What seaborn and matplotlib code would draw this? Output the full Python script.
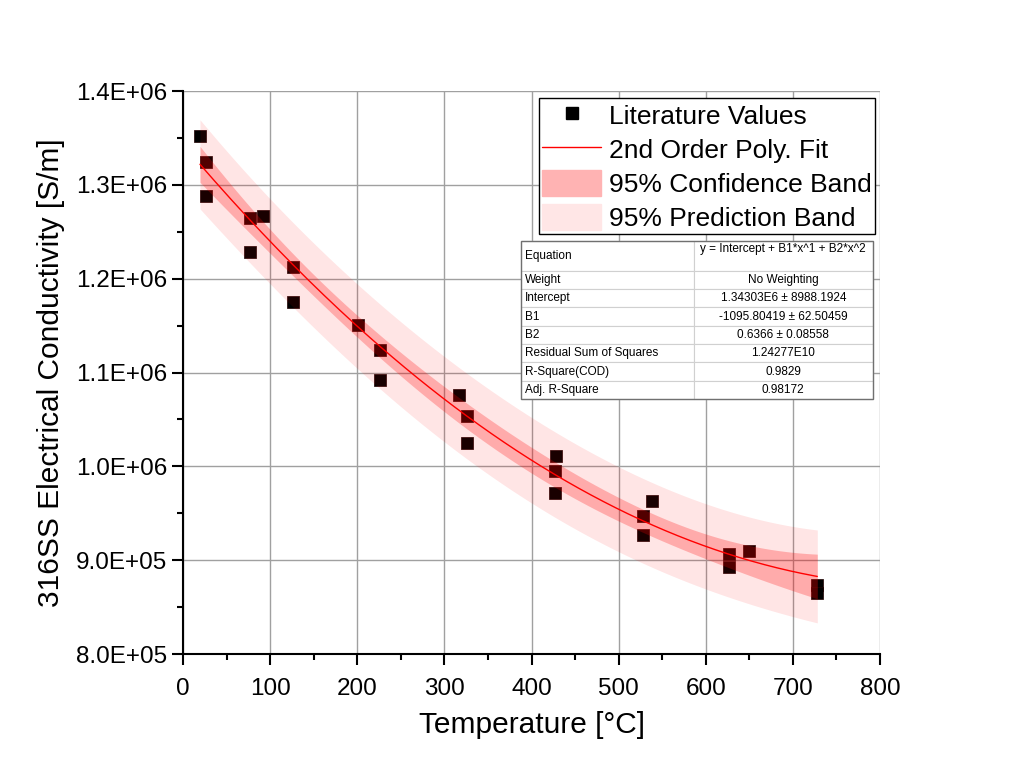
import numpy as np
import pandas as pd
import seaborn as sns
import matplotlib.pyplot as plt
from matplotlib.lines import Line2D
from matplotlib.patches import Patch
from matplotlib.ticker import MultipleLocator, FuncFormatter

# Literature values
temperature = [19.5, 26.4, 26.0, 77, 92, 77, 126, 126, 201, 226, 226, 317, 326, 326,
               428, 427, 427, 528, 528, 538, 627, 627, 650, 728, 728]
conductivity = [1.352e6, 1.3243e6, 1.288e6, 1.2646e6, 1.2667e6, 1.2284e6, 1.2124e6,
                1.175e6, 1.1506e6, 1.1239e6, 1.092e6, 1.076e6, 1.0536e6, 1.0248e6,
                1.0109e6, 0.995e6, 0.9715e6, 0.947e6, 0.9267e6, 0.963e6, 0.9064e6,
                0.8926e6, 0.910e6, 0.8734e6, 0.865e6]

# Fit parameters from the results table
intercept, b1, b2 = 1.34303e6, -1095.80419, 0.6366

table_labels = ["Equation", "Weight", "Intercept", "B1", "B2",
                "Residual Sum of Squares", "R-Square(COD)", "Adj. R-Square"]
table_values = ["y = Intercept + B1*x^1 + B2*x^2\n", "No Weighting",
                "1.34303E6 \u00b1 8988.1924", "-1095.80419 \u00b1 62.50459",
                "0.6366 \u00b1 0.08558", "1.24277E10", "0.9829", "0.98172"]

df = pd.DataFrame({"T": temperature, "sigma": conductivity})

# confidence / prediction bands for the quadratic fit
x = df["T"].to_numpy()
X = np.column_stack([np.ones_like(x), x, x ** 2])
n, p = X.shape
beta = np.array([intercept, b1, b2])
resid = df["sigma"].to_numpy() - X @ beta
s2 = np.sum(resid ** 2) / (n - p)
cov = s2 * np.linalg.inv(X.T @ X)
t_val = 2.074  # t(0.975, 22)

xf = np.linspace(x.min(), x.max(), 200)
Xf = np.column_stack([np.ones_like(xf), xf, xf ** 2])
yf = Xf @ beta
se_fit = np.sqrt(np.einsum("ij,jk,ik->i", Xf, cov, Xf))
ci = t_val * se_fit
pi = t_val * np.sqrt(se_fit ** 2 + s2)
fit = pd.DataFrame({"T": xf, "sigma": yf})

sns.set_style("white")
plt.rcParams["font.family"] = ["Liberation Sans", "DejaVu Sans"]
plt.rcParams["text.color"] = "black"
plt.rcParams["axes.labelcolor"] = "black"
plt.rcParams["xtick.color"] = "black"
plt.rcParams["ytick.color"] = "black"

fig = plt.figure(figsize=(10.24, 7.84), dpi=100)
ax = fig.add_axes([0.1787, 0.1658, 0.6807, 0.7181])

ax.grid(True, color="#a0a0a0", linewidth=1, zorder=0)
ax.set_axisbelow(True)

sns.scatterplot(data=df, x="T", y="sigma", marker="s", s=85, color="black",
                edgecolor="#200000", linewidth=0.5, ax=ax, zorder=3)
ax.fill_between(xf, yf - pi, yf + pi, color="red", alpha=0.1, linewidth=0, zorder=4)
ax.fill_between(xf, yf - ci, yf + ci, color="red", alpha=0.25, linewidth=0, zorder=4)
sns.lineplot(data=fit, x="T", y="sigma", color="red", linewidth=1, ax=ax, zorder=5)

ax.set_xlim(0, 800)
ax.set_ylim(8e5, 1.4e6)
ax.xaxis.set_major_locator(MultipleLocator(100))
ax.xaxis.set_minor_locator(MultipleLocator(50))
ax.yaxis.set_major_locator(MultipleLocator(1e5))
ax.yaxis.set_minor_locator(MultipleLocator(5e4))
ax.yaxis.set_major_formatter(FuncFormatter(lambda v, _: "{:.1E}".format(v)))
ax.tick_params(which="major", direction="out", length=8, width=1.5,
               labelsize=17.5, bottom=True, left=True)
ax.tick_params(axis="x", which="major", pad=9)
ax.tick_params(which="minor", direction="out", length=4, width=1.5,
               bottom=True, left=True)

for side in ["top", "right"]:
    ax.spines[side].set_visible(False)
for side in ["left", "bottom"]:
    ax.spines[side].set_linewidth(1.5)
    ax.spines[side].set_color("black")

ax.set_xlabel("Temperature [\u00b0C]", fontsize=21.5, labelpad=8)
ax.set_ylabel("316SS Electrical Conductivity [S/m]", fontsize=21.5, labelpad=8)

handles = [
    Line2D([], [], marker="s", color="black", linestyle="none", markersize=9),
    Line2D([], [], color="red", linewidth=1),
    Patch(facecolor="#ffb3b3", edgecolor="#ffb3b3"),
    Patch(facecolor="#ffe6e6", edgecolor="#ffe6e6"),
]
labels = ["Literature Values", "2nd Order Poly. Fit",
          "95% Confidence Band", "95% Prediction Band"]
leg = ax.legend(handles, labels, loc="upper right", bbox_to_anchor=(0.993, 0.987),
                fontsize=19, frameon=True, fancybox=False, edgecolor="black",
                framealpha=1, handlelength=2.25, handleheight=1.15,
                borderpad=0.12, labelspacing=0.27, handletextpad=0.3,
                borderaxespad=0.0)
leg.get_frame().set_linewidth(1)
leg.set_zorder(10)

# fit results table
cell_text = [[lab, val] for lab, val in zip(table_labels, table_values)]
tbl = ax.table(cellText=cell_text, colWidths=[0.49, 0.51],
               bbox=[0.485, 0.453, 0.505, 0.281], zorder=10)
tbl.auto_set_font_size(False)
tbl.set_fontsize(8.5)
heights = [0.19] + [0.1157] * 7
for (r, c), cell in tbl.get_celld().items():
    cell.set_edgecolor("#d0d0d0")
    cell.set_linewidth(0.8)
    cell.set_height(heights[r])
    cell.get_text().set_ha("left" if c == 0 else "center")
    if c == 0:
        cell.PAD = 0.02
frame = plt.Rectangle((0.485, 0.453), 0.505, 0.281, transform=ax.transAxes,
                      fill=False, edgecolor="#707070", linewidth=1, zorder=11)
ax.add_patch(frame)

fig.savefig("out.png", dpi=100)
